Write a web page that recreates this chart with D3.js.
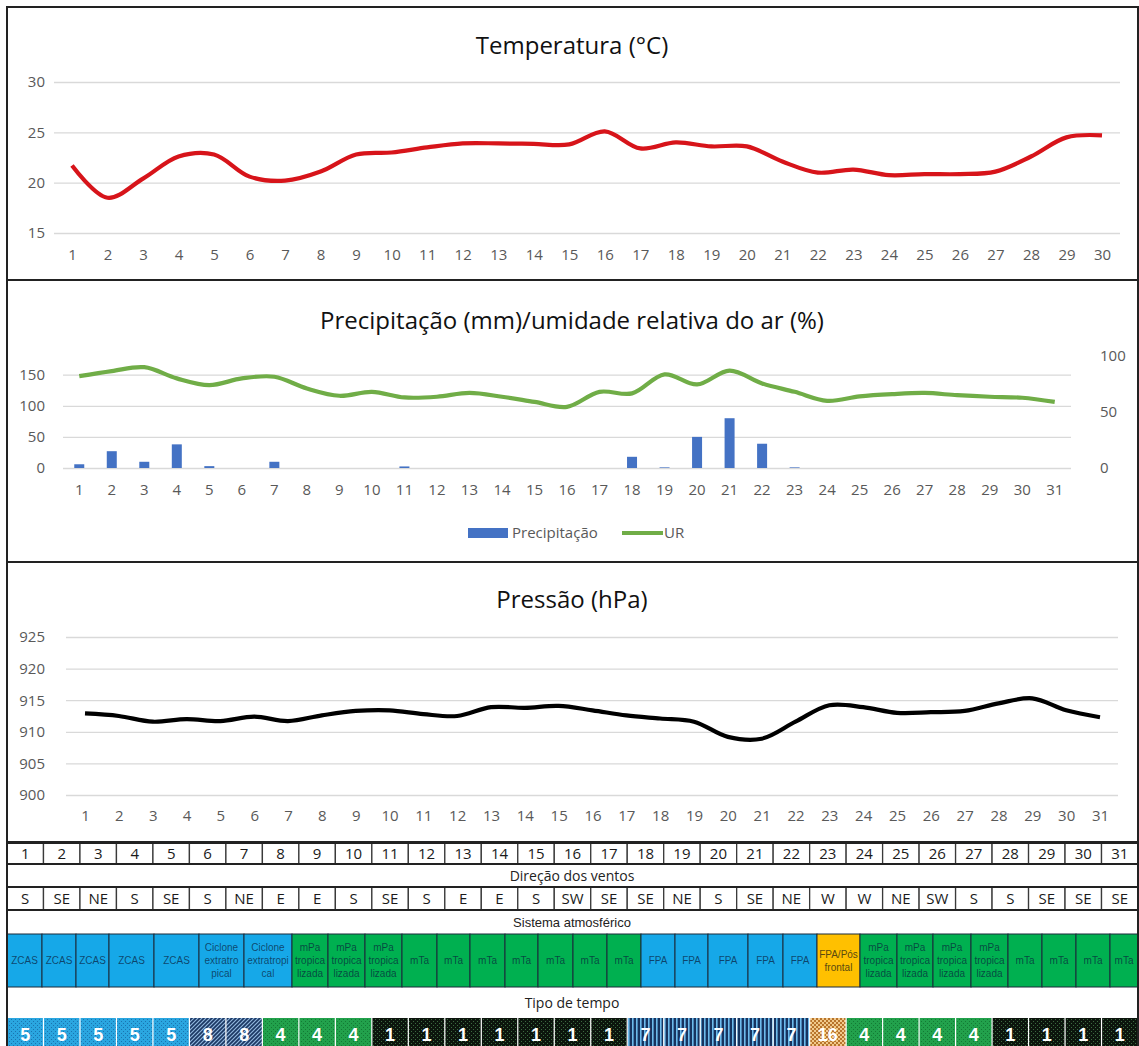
<!DOCTYPE html>
<html>
<head>
<meta charset="utf-8">
<script src="https://cdn.jsdelivr.net/npm/d3@7"></script>
<style>
  body { margin: 0; background: #fff; }
  svg { display: block; }
  text { font-family: "Open Sans", sans-serif; }
</style>
</head>
<body>
<div id="chart"></div>
<script>
// dias
var dias30 = [1,2,3,4,5,6,7,8,9,10,11,12,13,14,15,16,17,18,19,20,21,22,23,24,25,26,27,28,29,30];
var dias31 = [1,2,3,4,5,6,7,8,9,10,11,12,13,14,15,16,17,18,19,20,21,22,23,24,25,26,27,28,29,30,31];

// temperatura (°C), 30 dias
var temperatura = [21.7,18.5,20.4,22.6,22.8,20.6,20.2,21.1,22.8,23.0,23.5,23.9,23.9,23.85,23.8,
                   25.1,23.4,24.0,23.6,23.6,22.1,21.0,21.3,20.75,20.85,20.85,21.1,22.6,24.5,24.7];

// precipitação (mm) e umidade relativa (%)
var precipitacao = [6,27,10,38,3,0,10,0,0,0,2.5,0,0,0,0,0,0,18,1,50,80,39,1,0,0,0,0,0,0,0,0];
var umidade = [82,86.5,90,80,74,80,81.5,71,64.5,68,63,63.6,67,63.6,59,
               54.6,68,66.6,83.6,74.6,87,75.5,68,60,64,66,67,65,63.6,62.7,59];

// pressão (hPa)
var pressao = [912.9,912.5,911.6,912.0,911.7,912.4,911.7,912.6,913.3,913.4,912.8,912.5,913.9,913.8,914.1,
               913.4,912.6,912.1,911.6,909.2,908.9,911.6,914.2,913.9,913.0,913.1,913.3,914.5,915.3,913.4,912.3];

// tabela
var ventos = ["S","SE","NE","S","SE","S","NE","E","E","S","SE","S","E","E","S","SW","SE","SE","NE","S","SE","NE","W","W","NE","SW","S","S","SE","SE","SE"];
var sistema = ["ZCAS","ZCAS","ZCAS","ZCAS","ZCAS","Ciclone extratro pical","Ciclone extratropi cal",
               "mPa tropica lizada","mPa tropica lizada","mPa tropica lizada",
               "mTa","mTa","mTa","mTa","mTa","mTa","mTa",
               "FPA","FPA","FPA","FPA","FPA","FPA/Pós frontal",
               "mPa tropica lizada","mPa tropica lizada","mPa tropica lizada","mPa tropica lizada",
               "mTa","mTa","mTa","mTa"];
var tipoTempo = [5,5,5,5,5,8,8,4,4,4,1,1,1,1,1,1,1,7,7,7,7,7,16,4,4,4,4,1,1,1,1];

// layout: larguras relativas das células do sistema atmosférico
var larguraSistema = [35,34,33,45,45,45,48,36,37,37,35,33,35,33,35,34,34,34,33,40,35,34,43,37,36,38,37,34,34,34,28];

var W = 1139, H = 1046;
var L = 7, R = 1138;

var svg = d3.select("#chart").append("svg")
    .attr("width", W).attr("height", H);

var defs = svg.append("defs");

// padrões do tipo de tempo
function padrao(id, base, draw) {
  var p = defs.append("pattern").attr("id", id)
      .attr("patternUnits", "userSpaceOnUse").attr("width", 4).attr("height", 4);
  p.append("rect").attr("width", 4).attr("height", 4).attr("fill", base);
  draw(p);
}
padrao("p5", "#2aa6e0", function (p) {
  p.append("rect").attr("x", 1).attr("y", 1).attr("width", 1).attr("height", 1).attr("fill", "#1a74b0");
  p.append("rect").attr("x", 3).attr("y", 3).attr("width", 1).attr("height", 1).attr("fill", "#1a74b0");
});
padrao("p8", "#1b3763", function (p) {
  p.append("path").attr("d", "M0,4 L4,0 M-1,1 L1,-1 M3,5 L5,3").attr("stroke", "#8fb5dc").attr("stroke-width", 1.2);
});
padrao("p4", "#22a14c", function (p) {
  p.append("rect").attr("x", 1).attr("y", 1).attr("width", 1).attr("height", 1).attr("fill", "#137a34");
  p.append("rect").attr("x", 3).attr("y", 3).attr("width", 1).attr("height", 1).attr("fill", "#137a34");
});
padrao("p1", "#0c150d", function (p) {
  p.append("rect").attr("x", 1).attr("y", 1).attr("width", 1).attr("height", 1).attr("fill", "#3c6a40");
  p.append("rect").attr("x", 3).attr("y", 3).attr("width", 1).attr("height", 1).attr("fill", "#3c6a40");
});
padrao("p7", "#17335f", function (p) {
  p.append("rect").attr("x", 0).attr("y", 0).attr("width", 1.6).attr("height", 4).attr("fill", "#6dbbec");
});
padrao("p16", "#b8742c", function (p) {
  p.append("rect").attr("x", 0).attr("y", 0).attr("width", 2).attr("height", 2).attr("fill", "#f0c98c");
  p.append("rect").attr("x", 2).attr("y", 2).attr("width", 2).attr("height", 2).attr("fill", "#f0c98c");
});

function eixoEsquerdo(g, y, valores, x0, x1, labelEnd) {
  var a = g.append("g").attr("transform", "translate(" + x0 + ",0)")
      .call(d3.axisLeft(y).tickValues(valores).tickSize(-(x1 - x0)).tickPadding(x0 - labelEnd));
  a.select(".domain").remove();
  a.selectAll("line").attr("stroke", "#d9d9d9").attr("stroke-width", 1.3);
  a.selectAll("text").attr("fill", "#595959").style("font-size", "15px")
      .style("font-family", "'Open Sans', sans-serif");
  return a;
}
function eixoBaixo(g, x, yBase, pad) {
  var a = g.append("g").attr("transform", "translate(0," + yBase + ")")
      .call(d3.axisBottom(x).tickSize(0).tickPadding(pad));
  a.select(".domain").remove();
  a.selectAll("text").attr("fill", "#595959").style("font-size", "15px")
      .style("font-family", "'Open Sans', sans-serif");
  return a;
}
function titulo(txt, y) {
  svg.append("text").attr("x", 572).attr("y", y).attr("text-anchor", "middle")
     .style("font-size", "24px").attr("fill", "#111").text(txt);
}

// ---------- Temperatura ----------
var gT = svg.append("g");
var xT = d3.scalePoint().domain(dias30).range([72, 1102]);
var yT = d3.scaleLinear().domain([15, 30]).range([233, 82]);
titulo("Temperatura (°C)", 54);
eixoEsquerdo(gT, yT, [15, 20, 25, 30], 54, 1120, 45);
eixoBaixo(gT, xT, 233, 16);
gT.append("path").datum(temperatura)
  .attr("fill", "none").attr("stroke", "#d7141a").attr("stroke-width", 4.2)
  .attr("d", d3.line().x(function (d, i) { return xT(dias30[i]); })
               .y(function (d) { return yT(d); }).curve(d3.curveCatmullRom));

// ---------- Precipitação / UR ----------
var gP = svg.append("g");
var xP = d3.scaleBand().domain(dias31).range([63, 1071]);
var yP = d3.scaleLinear().domain([0, 180]).range([468, 356]);
var yU = d3.scaleLinear().domain([0, 100]).range([468, 356]);
titulo("Precipitação (mm)/umidade relativa do ar (%)", 329);
eixoEsquerdo(gP, yP, [0, 50, 100, 150], 63, 1071, 45);
var aR = gP.append("g").attr("transform", "translate(1071,0)")
    .call(d3.axisRight(yU).tickValues([0, 50, 100]).tickSize(0).tickPadding(29));
aR.select(".domain").remove();
aR.selectAll("text").attr("fill", "#595959").style("font-size", "15px");
eixoBaixo(gP, xP, 468, 16);
var bw = 10;
gP.selectAll("rect.bar").data(precipitacao).enter().append("rect").attr("class", "bar")
  .attr("x", function (d, i) { return xP(dias31[i]) + xP.bandwidth() / 2 - bw / 2; })
  .attr("width", bw)
  .attr("y", function (d) { return yP(d); })
  .attr("height", function (d) { return yP(0) - yP(d); })
  .attr("fill", "#4472c4");
gP.append("path").datum(umidade)
  .attr("fill", "none").attr("stroke", "#70ad47").attr("stroke-width", 4.2)
  .attr("d", d3.line().x(function (d, i) { return xP(dias31[i]) + xP.bandwidth() / 2; })
               .y(function (d) { return yU(d); }).curve(d3.curveCatmullRom));
// legenda
gP.append("rect").attr("x", 468).attr("y", 528).attr("width", 40).attr("height", 10).attr("fill", "#4472c4");
gP.append("text").attr("x", 512).attr("y", 538).attr("fill", "#595959").style("font-size", "15px").text("Precipitação");
gP.append("line").attr("x1", 622).attr("x2", 663).attr("y1", 533).attr("y2", 533)
  .attr("stroke", "#70ad47").attr("stroke-width", 4);
gP.append("text").attr("x", 664).attr("y", 538).attr("fill", "#595959").style("font-size", "15px").text("UR");

// ---------- Pressão ----------
var gH = svg.append("g");
var xH = d3.scalePoint().domain(dias31).range([85, 1100]);
var yH = d3.scaleLinear().domain([900, 925]).range([795, 637]);
titulo("Pressão (hPa)", 608);
eixoEsquerdo(gH, yH, [900, 905, 910, 915, 920, 925], 66, 1118, 45);
eixoBaixo(gH, xH, 795, 15);
gH.append("path").datum(pressao)
  .attr("fill", "none").attr("stroke", "#000").attr("stroke-width", 4.2)
  .attr("d", d3.line().x(function (d, i) { return xH(dias31[i]); })
               .y(function (d) { return yH(d); }).curve(d3.curveCatmullRom));

// ---------- Tabela ----------
var gTab = svg.append("g");
var xd = d3.scaleBand().domain(dias31).range([L, R]);

function linhaCelulas(valores, y0, y1) {
  var g = gTab.append("g");
  g.selectAll("rect").data(valores).enter().append("rect")
    .attr("x", function (d, i) { return xd(dias31[i]); })
    .attr("y", y0).attr("width", xd.bandwidth()).attr("height", y1 - y0)
    .attr("fill", "#fff").attr("stroke", "#3a3a3a").attr("stroke-width", 1.3);
  g.selectAll("text").data(valores).enter().append("text")
    .attr("x", function (d, i) { return xd(dias31[i]) + xd.bandwidth() / 2; })
    .attr("y", (y0 + y1) / 2 + 5.5).attr("text-anchor", "middle")
    .attr("fill", "#1a1a1a").style("font-size", "15px").text(function (d) { return d; });
  g.append("rect").attr("x", L).attr("y", y0).attr("width", R - L).attr("height", y1 - y0)
    .attr("fill", "none").attr("stroke", "#222").attr("stroke-width", 2);
}
function rotulo(txt, y, fam, size) {
  gTab.append("text").attr("x", 572).attr("y", y).attr("text-anchor", "middle")
    .attr("fill", "#222").style("font-family", fam).style("font-size", size).text(txt);
}

linhaCelulas(dias31, 843, 864);
rotulo("Direção dos ventos", 881, "'Open Sans', sans-serif", "14px");
linhaCelulas(ventos, 887, 910);
rotulo("Sistema atmosférico", 927, "'Liberation Sans', Arial, sans-serif", "13px");

// sistema atmosférico
var cumul = [0];
larguraSistema.forEach(function (w, i) { cumul.push(cumul[i] + w); });
var xs = d3.scaleLinear().domain([0, cumul[cumul.length - 1]]).range([L, R]);
var corSistema = function (s) {
  if (s.indexOf("Pós") >= 0) return "#ffc000";
  if (s.indexOf("mPa") === 0 || s.indexOf("mTa") === 0) return "#00b050";
  return "#16a8e8";
};
var gS = gTab.append("g");
var sy0 = 934, sy1 = 987;
gS.selectAll("rect").data(sistema).enter().append("rect")
  .attr("x", function (d, i) { return xs(cumul[i]); })
  .attr("width", function (d, i) { return xs(cumul[i + 1]) - xs(cumul[i]); })
  .attr("y", sy0).attr("height", sy1 - sy0)
  .attr("fill", corSistema).attr("stroke", "#1b2b3a").attr("stroke-width", 1);
gS.selectAll("text").data(sistema).enter().append("text")
  .attr("text-anchor", "middle")
  .style("font-family", "'Liberation Sans', Arial, sans-serif")
  .style("font-size", "10px")
  .attr("fill", function (d) { return d.indexOf("Pós") >= 0 ? "#5a4a10" : "rgba(10,30,60,0.72)"; })
  .each(function (d, i) {
    var partes = d.split(" ");
    var cx = (xs(cumul[i]) + xs(cumul[i + 1])) / 2;
    var meio = (sy0 + sy1) / 2;
    var t = d3.select(this);
    partes.forEach(function (p, k) {
      t.append("tspan").attr("x", cx)
        .attr("y", meio + 3.5 + (k - (partes.length - 1) / 2) * 13)
        .text(p);
    });
  });

rotulo("Tipo de tempo", 1008, "'Open Sans', sans-serif", "14px");

// tipo de tempo
var gTp = gTab.append("g");
var ty0 = 1018, ty1 = 1046;
gTp.append("rect").attr("x", L).attr("y", ty0).attr("width", R - L).attr("height", ty1 - ty0).attr("fill", "#fff");
gTp.selectAll("rect.tp").data(tipoTempo).enter().append("rect").attr("class", "tp")
  .attr("x", function (d, i) { return xd(dias31[i]) + 0.6; })
  .attr("width", xd.bandwidth() - 1.2)
  .attr("y", ty0).attr("height", ty1 - ty0 + 2)
  .attr("fill", function (d) { return "url(#p" + d + ")"; });
gTp.selectAll("text").data(tipoTempo).enter().append("text")
  .attr("x", function (d, i) { return xd(dias31[i]) + xd.bandwidth() / 2; })
  .attr("y", 1041).attr("text-anchor", "middle")
  .attr("fill", "#fff")
  .style("font-family", "'Liberation Sans', Arial, sans-serif")
  .style("font-weight", "bold").style("font-size", "18px")
  .text(function (d) { return d; });

// molduras
svg.append("rect").attr("x", L).attr("y", 7).attr("width", R - L).attr("height", H)
  .attr("fill", "none").attr("stroke", "#222").attr("stroke-width", 2);
[280, 562, 842].forEach(function (yy) {
  svg.append("line").attr("x1", L).attr("x2", R).attr("y1", yy).attr("y2", yy)
    .attr("stroke", "#222").attr("stroke-width", 2);
});
</script>
</body>
</html>
